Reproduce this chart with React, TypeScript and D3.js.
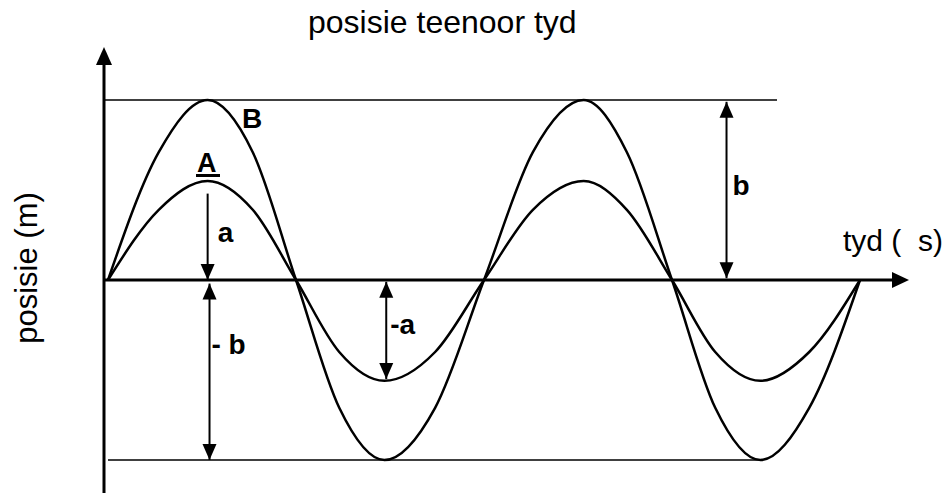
import * as d3 from "d3";

const W = 946;
const H = 497;

// time in half-periods; position as a fraction of amplitude b
const timeKnots = [0, 0.27, 0.53, 0.77, 1, 1.23, 1.47, 1.74, 2, 2.26, 2.53, 2.76, 3, 3.23, 3.47, 3.73, 4];
const posB = [0, 0.71, 1, 0.71, 0, -0.71, -1, -0.71, 0, 0.71, 1, 0.71, 0, -0.71, -1, -0.71, 0];
const posA = [0, 0.39, 0.55, 0.39, 0, -0.4, -0.56, -0.4, 0, 0.39, 0.55, 0.39, 0, -0.4, -0.56, -0.4, 0];

// amplitude markers: time, from, to, double headed, label
const markerT = [0.53, 0.54, 1.48, 3.29];
const markerFrom = [0.48, -0.02, -0.01, 0.99];
const markerTo = [0, -1, -0.55, 0.01];
const markerDouble = [false, true, true, true];
const markerLabels = ["a", "- b", "-a", "b"];

const title = "posisie teenoor tyd";
const xLabel = "tyd (\u00a0 s)";
const yLabel = "posisie (m)";

const font = "Arial, 'Liberation Sans', Helvetica, sans-serif";

function head(x: number, y: number, dir: "up" | "down" | "right", len = 16, half = 7) {
  if (dir === "up") return `M${x},${y} L${x - half},${y + len} L${x + half},${y + len} Z`;
  if (dir === "down") return `M${x},${y} L${x - half},${y - len} L${x + half},${y - len} Z`;
  return `M${x},${y} L${x - len},${y - half} L${x - len},${y + half} Z`;
}

export default function App() {
  const x = d3.scaleLinear().domain([0, 4]).range([108, 860]);
  const y = d3.scaleLinear().domain([-1, 1]).range([460, 100]);
  const axisX = 104;

  const line = d3
    .line<number>()
    .x((_, i) => x(timeKnots[i]))
    .y((d) => y(d))
    .curve(d3.curveMonotoneX);

  const labelPos = [
    { dx: 10, yv: 0.21 },
    { dx: 2, yv: -0.41 },
    { dx: 4, yv: -0.3 },
    { dx: 6, yv: 0.47 },
  ];

  return (
    <svg
      width={W}
      height={H}
      style={{ position: "absolute", left: 0, top: 0, background: "#fff" }}
      fontFamily={font}
    >
      <rect width={W} height={H} fill="#fff" />
      <text x={308} y={33} fontSize={32}>
        {title}
      </text>
      <text
        transform={`translate(${37},${268}) rotate(-90)`}
        fontSize={31}
        textAnchor="middle"
      >
        {yLabel}
      </text>
      <text x={943} y={251} fontSize={30} textAnchor="end" style={{ whiteSpace: "pre" }}>
        {xLabel}
      </text>

      {/* reference lines at +b and -b */}
      <line x1={axisX} x2={777} y1={y(1)} y2={y(1)} stroke="#000" strokeWidth={1.6} />
      <line x1={axisX + 4} x2={763} y1={y(-1)} y2={y(-1)} stroke="#000" strokeWidth={1.6} />

      {/* axes */}
      <line x1={axisX} x2={axisX} y1={493} y2={60} stroke="#000" strokeWidth={3} />
      <path d={head(axisX, 47, "up", 18, 8)} fill="#000" />
      <line x1={axisX} x2={895} y1={y(0)} y2={y(0)} stroke="#000" strokeWidth={3} />
      <path d={head(909, y(0), "right", 17, 8)} fill="#000" />

      {/* curves */}
      <path d={line(posB) ?? ""} fill="none" stroke="#000" strokeWidth={2.5} />
      <path d={line(posA) ?? ""} fill="none" stroke="#000" strokeWidth={2.5} />

      <text x={242} y={128} fontSize={28} fontWeight="bold">B</text>
      <text x={197} y={172} fontSize={27} fontWeight="bold">A</text>
      <line x1={196} x2={220} y1={175.5} y2={175.5} stroke="#000" strokeWidth={3} />

      {/* amplitude markers */}
      {markerT.map((t, i) => {
        const px = x(t);
        const y1 = y(markerFrom[i]);
        const y2 = y(markerTo[i]);
        return (
          <g key={i}>
            <line x1={px} x2={px} y1={y1} y2={y2} stroke="#000" strokeWidth={2} />
            <path d={head(px, y2, y2 > y1 ? "down" : "up")} fill="#000" />
            {markerDouble[i] && <path d={head(px, y1, y2 > y1 ? "up" : "down")} fill="#000" />}
            <text
              x={px + labelPos[i].dx}
              y={y(labelPos[i].yv)}
              fontSize={28}
              fontWeight="bold"
              style={{ whiteSpace: "pre" }}
            >
              {markerLabels[i]}
            </text>
          </g>
        );
      })}
    </svg>
  );
}
